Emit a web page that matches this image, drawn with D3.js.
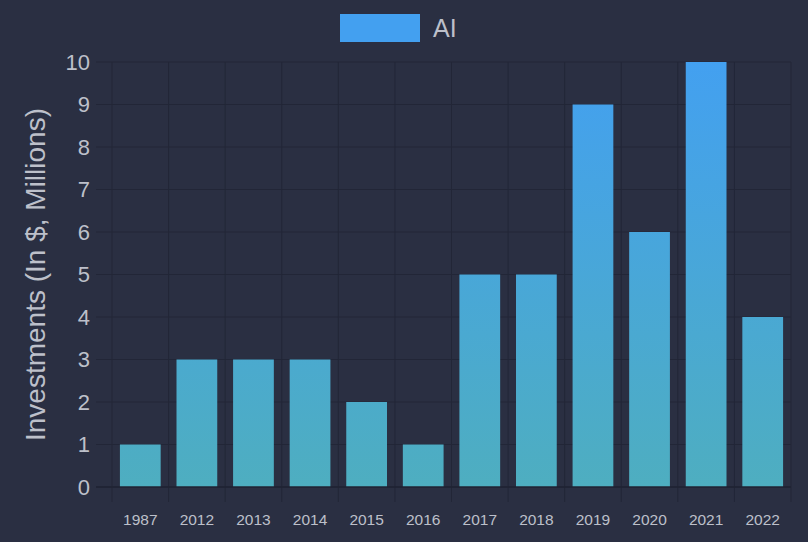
<!DOCTYPE html>
<html><head><meta charset="utf-8">
<script src="https://cdn.jsdelivr.net/npm/d3@7"></script>
<style>
html,body{margin:0;padding:0;background:#2a2f42;}
svg{display:block;font-family:"Liberation Sans",Arial,Helvetica,sans-serif;}
</style></head>
<body>
<svg id="chart" width="808" height="542"></svg>
<script>
const categories = ["1987","2012","2013","2014","2015","2016","2017","2018","2019","2020","2021","2022"];
const seriesName = "AI";
const values = [1,3,3,3,2,1,5,5,9,6,10,4];
const yTicks = [0,1,2,3,4,5,6,7,8,9,10];
const yTitle = "Investments (In $, Millions)";

const W = 808, H = 542;
const m = {left:112, right:17, top:62, bottom:55};
const svg = d3.select("#chart");
svg.append("rect").attr("width",W).attr("height",H).attr("fill","#2a2f42");

const x = d3.scaleBand().domain(categories).range([m.left, W - m.right]).paddingInner(0).paddingOuter(0);
const y = d3.scaleLinear().domain([0,10]).range([H - m.bottom, m.top]);

const defs = svg.append("defs");
const grad = defs.append("linearGradient").attr("id","barGrad")
  .attr("gradientUnits","userSpaceOnUse")
  .attr("x1",0).attr("x2",0).attr("y1",y(10)).attr("y2",y(0));
grad.append("stop").attr("offset","0%").attr("stop-color","#43a0f0");
grad.append("stop").attr("offset","100%").attr("stop-color","#4eaec0");

const gridColor = "#222637";
svg.append("g").selectAll("line").data(yTicks).join("line")
  .attr("x1", m.left - 16).attr("x2", W - m.right)
  .attr("y1", d => y(d)).attr("y2", d => y(d))
  .attr("stroke", gridColor).attr("stroke-width", 1);
const bounds = categories.map(c => x(c)).concat([W - m.right]);
svg.append("g").selectAll("line").data(bounds).join("line")
  .attr("x1", d => d).attr("x2", d => d)
  .attr("y1", m.top).attr("y2", y(0) + 15)
  .attr("stroke", gridColor).attr("stroke-width", 1);

const bw = x.bandwidth() * 0.72;
svg.append("g").selectAll("rect").data(values).join("rect")
  .attr("x", (d,i) => x(categories[i]) + (x.bandwidth() - bw)/2)
  .attr("width", bw)
  .attr("y", d => y(d))
  .attr("height", d => y(0) - y(d))
  .attr("fill", "url(#barGrad)");

svg.append("line").attr("x1", m.left - 16).attr("x2", W - m.right)
  .attr("y1", y(0)).attr("y2", y(0)).attr("stroke", "#1f2333").attr("stroke-width", 1.5);

const textColor = "#bdc0ca";
svg.append("g").selectAll("text").data(yTicks).join("text")
  .attr("x", 90).attr("y", d => y(d)).attr("dy","0.36em")
  .attr("text-anchor","end").attr("fill", textColor)
  .attr("font-size", 22).text(d => d);

svg.append("g").selectAll("text").data(categories).join("text")
  .attr("x", d => x(d) + x.bandwidth()/2).attr("y", 519).attr("dy","0.36em")
  .attr("text-anchor","middle").attr("fill", textColor)
  .attr("font-size", 15.5).text(d => d);

svg.append("text").attr("transform", `translate(35,${(y(0)+y(10))/2}) rotate(-90)`)
  .attr("text-anchor","middle").attr("dy","0.36em")
  .attr("fill", textColor).attr("font-size", 28).text(yTitle);

svg.append("rect").attr("x",340).attr("y",14).attr("width",80).attr("height",28).attr("fill","#43a0f0");
svg.append("text").attr("x",433).attr("y",28).attr("dy","0.36em")
  .attr("fill", textColor).attr("font-size", 25).text(seriesName);
</script>
</body></html>
